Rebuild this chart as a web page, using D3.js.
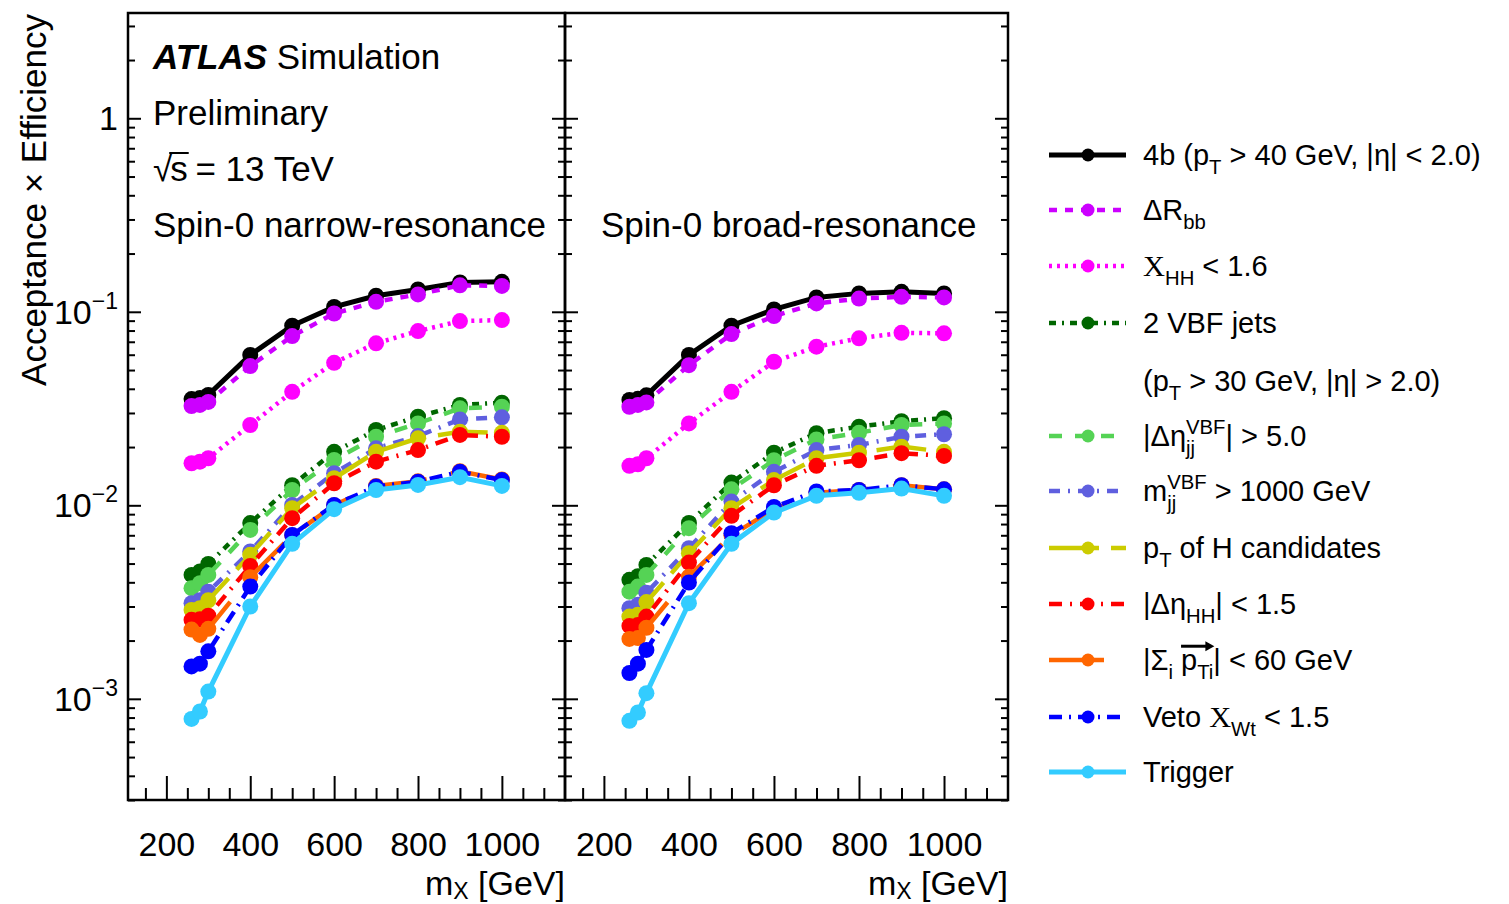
<!DOCTYPE html>
<html><head><meta charset="utf-8">
<script src="https://cdn.jsdelivr.net/npm/d3@7"></script>
<style>body{margin:0;background:#fff} text{fill:#000}</style>
</head><body><svg id="c" width="1509" height="904" font-family="Liberation Sans, Arial, Helvetica, sans-serif"></svg>
<script>
// ---------------- data ----------------
const masses = [260, 280, 300, 400, 500, 600, 700, 800, 900, 1000];
const xMajorTicks = [200, 400, 600, 800, 1000];
const yMajorTicks = [1e-3, 1e-2, 1e-1, 1];
const yTickLabels = [["10", "\u22123"], ["10", "\u22122"], ["10", "\u22121"], ["1", ""]];
const panelTitles = ["Spin-0 narrow-resonance", "Spin-0 broad-resonance"];

// narrow resonance
const narrow4b     = [0.0354, 0.0358, 0.0372, 0.0598, 0.0847, 0.106, 0.121, 0.1305, 0.1418, 0.1429];
const narrowDRbb   = [0.0326, 0.0330, 0.0342, 0.0524, 0.0749, 0.098, 0.1126, 0.123, 0.137, 0.136];
const narrowXHH    = [0.0165, 0.0168, 0.0175, 0.026, 0.0386, 0.0545, 0.0687, 0.0795, 0.0895, 0.0906];
const narrowVBF    = [0.00437, 0.00455, 0.00498, 0.00809, 0.0127, 0.0189, 0.0245, 0.0287, 0.0330, 0.0339];
const narrowDEtajj = [0.00373, 0.00396, 0.00437, 0.00746, 0.0120, 0.01715, 0.0226, 0.0265, 0.0317, 0.0323];
const narrowMjj    = [0.00312, 0.00323, 0.00358, 0.00577, 0.01005, 0.01464, 0.0197, 0.0228, 0.0278, 0.0285];
const narrowPtH    = [0.00288, 0.00294, 0.00323, 0.00555, 0.00966, 0.0138, 0.0189, 0.0222, 0.0240, 0.0237];
const narrowDEtaHH = [0.00256, 0.00258, 0.00269, 0.00486, 0.00858, 0.0130, 0.0168, 0.0193, 0.0231, 0.0226];
const narrowSumPt  = [0.00228, 0.00214, 0.00230, 0.00425, 0.00700, 0.0100, 0.0126, 0.0133, 0.0150, 0.0136];
const narrowVeto   = [0.00147, 0.00152, 0.00176, 0.0038, 0.00703, 0.01005, 0.0125, 0.01325, 0.0149, 0.0135];
const narrowTrig   = [0.000787, 0.00086, 0.00109, 0.0030, 0.00632, 0.00955, 0.0120, 0.01274, 0.01397, 0.0126];

// broad resonance
const broad4b     = [0.0350, 0.0355, 0.0370, 0.0598, 0.0847, 0.1029, 0.1187, 0.1245, 0.1268, 0.1245];
const broadDRbb   = [0.0323, 0.0330, 0.0340, 0.053, 0.0767, 0.095, 0.1105, 0.117, 0.1195, 0.1187];
const broadXHH    = [0.0160, 0.0163, 0.0175, 0.0265, 0.0386, 0.0552, 0.066, 0.0729, 0.0779, 0.0774];
const broadVBF    = [0.00412, 0.0043, 0.00492, 0.0081, 0.0131, 0.0187, 0.0236, 0.0255, 0.0272, 0.0282];
const broadDEtajj = [0.00358, 0.0038, 0.00437, 0.00762, 0.0121, 0.0171, 0.0219, 0.0237, 0.026, 0.0265];
const broadMjj    = [0.00294, 0.00306, 0.00353, 0.0060, 0.01045, 0.0149, 0.0193, 0.0205, 0.0226, 0.0233];
const broadPtH    = [0.00266, 0.00272, 0.00316, 0.00566, 0.00966, 0.0135, 0.0175, 0.0187, 0.0201, 0.0189];
const broadDEtaHH = [0.00238, 0.00241, 0.00266, 0.00506, 0.00882, 0.0127, 0.0160, 0.0171, 0.0186, 0.0180];
const broadSumPt  = [0.00204, 0.00206, 0.00233, 0.00428, 0.0070, 0.00955, 0.0116, 0.0120, 0.0127, 0.0121];
const broadVeto   = [0.00136, 0.00152, 0.00179, 0.00399, 0.00718, 0.0098, 0.0118, 0.0120, 0.0127, 0.0121];
const broadTrig   = [0.00077, 0.00085, 0.00107, 0.00312, 0.00632, 0.00917, 0.0112, 0.0116, 0.0122, 0.01119];

const seriesColors = ["#000000", "#cc00ff", "#ff00ff", "#006600", "#55d355", "#5f5fdf", "#cccc00", "#ff0000", "#ff6600", "#0000ff", "#33ccff"];
const seriesDash = ["", "8,8", "3,5", "7,6,2,6", "13,13", "11,8,2,8", "50,12", "13,8,2,8", "55,25", "13,7,2,7", ""];

// legend labels (rich text segments)
const legendLabels = [
  [{t:"4b (p"},{sub:"T"},{t:" > 40 GeV, |\u03b7| < 2.0)"}],
  [{t:"\u0394R"},{sub:"bb"}],
  [{t:"X",serif:true},{sub:"HH"},{t:" < 1.6"}],
  [{t:"2 VBF jets"}],
  [{t:"|\u0394\u03b7"},{sup:"VBF",sub:"jj"},{t:"| > 5.0"}],
  [{t:"m"},{sup:"VBF",sub:"jj"},{t:" > 1000 GeV"}],
  [{t:"p"},{sub:"T"},{t:" of H candidates"}],
  [{t:"|\u0394\u03b7"},{sub:"HH"},{t:"| < 1.5"}],
  [{t:"|\u03a3"},{sub:"i"},{t:" "},{t:"p",arrowStart:true},{sub:"Ti",arrowEnd:true},{t:"| < 60 GeV"}],
  [{t:"Veto "},{t:"X",serif:true},{sub:"Wt"},{t:" < 1.5"}],
  [{t:"Trigger"}]
];
const legendExtraLine = [{t:"(p"},{sub:"T"},{t:" > 30 GeV, |\u03b7| > 2.0)"}];

const narrowSeries = [narrow4b, narrowDRbb, narrowXHH, narrowVBF, narrowDEtajj, narrowMjj, narrowPtH, narrowDEtaHH, narrowSumPt, narrowVeto, narrowTrig];
const broadSeries  = [broad4b, broadDRbb, broadXHH, broadVBF, broadDEtajj, broadMjj, broadPtH, broadDEtaHH, broadSumPt, broadVeto, broadTrig];

// ---------------- drawing ----------------
const svg = d3.select("#c");
const yTop = 13, yBot = 800;
const panels = [{x0:128, x1:565, data:narrowSeries, title:panelTitles[0], tx:153},
                {x0:565, x1:1008, data:broadSeries, title:panelTitles[1], tx:601}];
const y = d3.scaleLog().domain([3e-4, 3.5]).range([yBot, yTop]);
const FS = 35, TFS = 34;

const yMinor = [];
for (let e = -4; e <= 0; e++) for (let k = 2; k <= 9; k++) { const v = k * Math.pow(10, e); if (v >= 3e-4 && v <= 3.5) yMinor.push(v); }
const xMinor = d3.range(150, 1150, 50).filter(v => v % 200 !== 0);

panels.forEach((p, pi) => {
  const x = d3.scaleLinear().domain([108.5, 1150.5]).range([p.x0, p.x1]);
  const g = svg.append("g");
  g.append("g").attr("transform", `translate(0,${yBot})`)
    .call(d3.axisBottom(x).tickValues(xMinor).tickSize(-12).tickFormat(""))
    .call(a => a.select(".domain").remove())
    .call(a => a.selectAll("line").attr("stroke", "#000").attr("stroke-width", 2));
  g.append("g").attr("transform", `translate(0,${yBot})`)
    .call(d3.axisBottom(x).tickValues(xMajorTicks).tickSize(-24).tickPadding(32).tickFormat(d3.format("d")))
    .call(a => a.select(".domain").remove())
    .call(a => a.selectAll("line").attr("stroke", "#000").attr("stroke-width", 2))
    .call(a => a.selectAll("text").attr("font-size", TFS).style("font-family", "Liberation Sans, Arial, sans-serif").attr("fill", "#000"));
  [[p.x0, d3.axisLeft], [p.x1, d3.axisRight]].forEach(([xx, ax]) => {
    g.append("g").attr("transform", `translate(${xx},0)`)
      .call(ax(y).tickValues(yMinor).tickSize(-7).tickFormat(""))
      .call(a => a.select(".domain").remove())
      .call(a => a.selectAll("line").attr("stroke", "#000").attr("stroke-width", 2));
    g.append("g").attr("transform", `translate(${xx},0)`)
      .call(ax(y).tickValues(yMajorTicks).tickSize(-13).tickFormat(""))
      .call(a => a.select(".domain").remove())
      .call(a => a.selectAll("line").attr("stroke", "#000").attr("stroke-width", 2));
  });
  g.append("rect").attr("x", p.x0).attr("y", yTop).attr("width", p.x1 - p.x0).attr("height", yBot - yTop)
    .attr("fill", "none").attr("stroke", "#000").attr("stroke-width", 2.5);

  const line = d3.line().x((d, i) => x(masses[i])).y(d => y(d));
  p.data.forEach((vals, si) => {
    const sg = g.append("g");
    sg.append("path").datum(vals).attr("d", line).attr("fill", "none")
      .attr("stroke", seriesColors[si]).attr("stroke-width", (si === 0 || si === 10) ? 5 : 4.5)
      .attr("stroke-dasharray", seriesDash[si] || null);
    sg.selectAll("circle").data(vals).join("circle")
      .attr("cx", (d, i) => x(masses[i])).attr("cy", d => y(d)).attr("r", 8)
      .attr("fill", seriesColors[si]);
  });

  svg.append("text").attr("x", p.tx).attr("y", 237).attr("font-size", FS).text(p.title);
  const xt = svg.append("text").attr("x", p.x1).attr("y", 895).attr("text-anchor", "end").attr("font-size", TFS);
  xt.append("tspan").text("m");
  xt.append("tspan").attr("font-size", 23).attr("dy", 4).text("X");
  xt.append("tspan").attr("dy", -4).text(" [GeV]");
});

yMajorTicks.forEach((v, i) => {
  const t = svg.append("text").attr("x", 118).attr("y", y(v) + 12).attr("text-anchor", "end").attr("font-size", TFS);
  t.append("tspan").text(yTickLabels[i][0]);
  if (yTickLabels[i][1]) t.append("tspan").attr("font-size", 23).attr("dy", -15).text(yTickLabels[i][1]);
});

svg.append("text").attr("transform", "translate(46,14) rotate(-90)").attr("text-anchor", "end")
  .attr("font-size", FS).text("Acceptance \u00d7 Efficiency");

const at = svg.append("text").attr("x", 153).attr("y", 69).attr("font-size", FS);
at.append("tspan").attr("font-weight", "bold").attr("font-style", "italic").text("ATLAS");
at.append("tspan").text(" Simulation");
svg.append("text").attr("x", 153).attr("y", 125).attr("font-size", FS).text("Preliminary");
const rt = svg.append("text").attr("x", 153).attr("y", 181).attr("font-size", FS).text("\u221a");
const rw = rt.node().getComputedTextLength();
const st = svg.append("text").attr("x", 153 + rw - 2).attr("y", 181).attr("font-size", FS).text("s");
const sw = st.node().getComputedTextLength();
svg.append("line").attr("x1", 153 + rw - 3).attr("x2", 153 + rw + sw - 1).attr("y1", 153).attr("y2", 153)
  .attr("stroke", "#000").attr("stroke-width", 2);
svg.append("text").attr("x", 153 + rw + sw - 4).attr("y", 181).attr("font-size", FS).attr("xml:space", "preserve").text(" = 13 TeV");

function rich(x0, base, segs, fs) {
  let x = x0, arrowX0 = null;
  const g = svg.append("g");
  segs.forEach(s => {
    if (s.t !== undefined) {
      const t = g.append("text").attr("x", x).attr("y", base).attr("font-size", fs).attr("xml:space", "preserve").text(s.t);
      if (s.serif) t.style("font-family", "Liberation Serif, Times New Roman, serif").attr("font-size", fs * 1.05);
      if (s.arrowStart) arrowX0 = x;
      x += t.node().getComputedTextLength();
    } else {
      let w = 0;
      if (s.sup) { const t = g.append("text").attr("x", x).attr("y", base - fs * 0.42).attr("font-size", fs * 0.7).text(s.sup); w = Math.max(w, t.node().getComputedTextLength()); }
      if (s.sub) { const t = g.append("text").attr("x", x).attr("y", base + fs * 0.3).attr("font-size", fs * 0.7).text(s.sub); w = Math.max(w, t.node().getComputedTextLength()); }
      x += w;
      if (s.arrowEnd && arrowX0 !== null) {
        const ay = base - fs * 0.82;
        g.append("line").attr("x1", arrowX0).attr("x2", x - 6).attr("y1", ay).attr("y2", ay).attr("stroke", "#000").attr("stroke-width", 3);
        g.append("path").attr("d", `M${x - 8},${ay - 5}L${x + 1},${ay}L${x - 8},${ay + 5}Z`).attr("fill", "#000");
      }
    }
  });
}

const legY = [155, 210, 266, 323, 436, 491, 548, 604, 660, 717, 772];
const LFS = 29;
legendLabels.forEach((segs, i) => {
  const yy = legY[i];
  svg.append("line").attr("x1", 1049).attr("x2", 1126).attr("y1", yy).attr("y2", yy)
    .attr("stroke", seriesColors[i]).attr("stroke-width", (i === 0 || i === 10) ? 5 : 4.5)
    .attr("stroke-dasharray", seriesDash[i] || null);
  svg.append("circle").attr("cx", 1088).attr("cy", yy).attr("r", 6.5).attr("fill", seriesColors[i]);
  rich(1143, yy + 10, segs, LFS);
});
rich(1143, 381 + 10, legendExtraLine, LFS);
</script></body></html>
